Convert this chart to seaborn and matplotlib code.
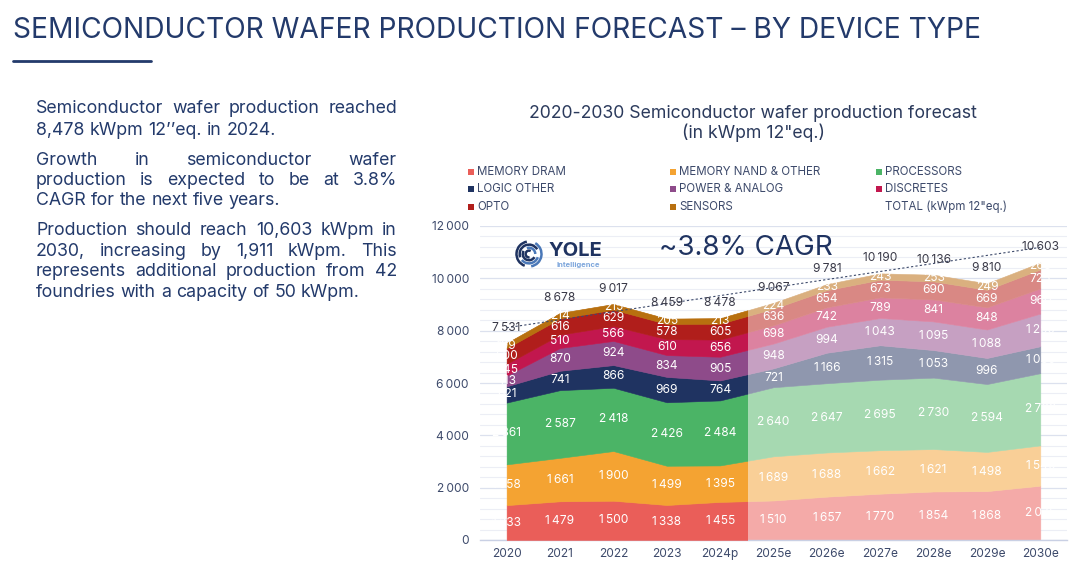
import numpy as np
import pandas as pd
import matplotlib
matplotlib.use("Agg")
import matplotlib.pyplot as plt
import seaborn as sns
from matplotlib.patches import Rectangle, Arc
from matplotlib.lines import Line2D

# ---------------- data ----------------
years = ["2020", "2021", "2022", "2023", "2024p", "2025e", "2026e",
         "2027e", "2028e", "2029e", "2030e"]
memory_dram = [1333, 1479, 1500, 1338, 1455, 1510, 1657, 1770, 1854, 1868, 2075]
memory_nand = [1558, 1661, 1900, 1499, 1395, 1689, 1688, 1662, 1621, 1498, 1540]
processors = [2361, 2587, 2418, 2426, 2484, 2640, 2647, 2695, 2730, 2594, 2760]
logic_other = [621, 741, 866, 969, 764, 721, 1166, 1315, 1053, 996, 1030]
power_analog = [413, 870, 924, 834, 905, 948, 994, 1043, 1095, 1088, 1250]
discretes = [445, 510, 566, 610, 656, 698, 742, 789, 841, 848, 960]
opto = [600, 616, 629, 578, 605, 636, 654, 673, 690, 669, 725]
sensors = [199, 214, 215, 205, 213, 224, 233, 243, 253, 249, 263]
totals = [7531, 8678, 9017, 8459, 8478, 9067, 9781, 10190, 10136, 9810, 10603]

series_names = ["MEMORY DRAM", "MEMORY NAND & OTHER", "PROCESSORS", "LOGIC OTHER",
                "POWER & ANALOG", "DISCRETES", "OPTO", "SENSORS"]
series = [memory_dram, memory_nand, processors, logic_other,
          power_analog, discretes, opto, sensors]
dark_colors = ["#EA5E59", "#F4A332", "#4BB466", "#1F3361",
               "#8E4B8A", "#C2174E", "#B01E1B", "#B8700F"]
light_colors = ["#F4AAA8", "#F9CF97", "#A6D9B1", "#8F97AE",
                "#C6A0C2", "#DC82A0", "#D98884", "#DAB07F"]

NAVY = "#233A6B"
GREY_TXT = "#3D4A6B"

df = pd.DataFrame({"year": years, "total": totals})

# ---------------- figure ----------------
sns.set_theme(style="white")
plt.rcParams["font.family"] = ["Inter", "DejaVu Sans"]

W, H = 1080, 570
fig = plt.figure(figsize=(W / 100, H / 100), dpi=100)


def fx(x):
    return x / W


def fy(y):
    return 1 - y / H


ax = fig.add_axes([fx(480), fy(540), 587 / W, 314 / H])
x = np.arange(len(years))

# light (forecast) colours for the whole range
ax.stackplot(x, *series, colors=light_colors, linewidth=0.4,
             edgecolor="face", zorder=2)
# dark (actual) colours, clipped to 2020 - 2024p
dark = ax.stackplot(x, *series, colors=dark_colors, linewidth=0.4,
                    edgecolor="face", zorder=3)
clip = Rectangle((-0.5, 0), 5.0, 14000, transform=ax.transData)
for p in dark:
    p.set_clip_path(clip)

ax.set_xlim(-0.5, len(years) - 0.5)
ax.set_ylim(0, 12000)


def fmt(v):
    s = f"{v:,}"
    return s.replace(",", "\u2009")


# segment labels
bottom = np.zeros(len(years))
for vals in series:
    vals = np.array(vals, dtype=float)
    for j in range(len(years)):
        ax.text(x[j], bottom[j] + vals[j] / 2, fmt(int(vals[j])), color="white",
                ha="center", va="center", fontsize=8.6, zorder=6, clip_on=True)
    bottom += vals

# totals + CAGR line
for j in range(len(years)):
    ax.text(x[j], totals[j] + 580, fmt(totals[j]), color="#3A3A48",
            ha="center", va="center", fontsize=8.6, zorder=7)
sns.lineplot(x=[x[0], x[-1]], y=[totals[0] + 580, totals[-1] + 580], ax=ax,
             color=GREY_TXT, linewidth=0.8, dashes=False, zorder=6)
ax.lines[-1].set_linestyle((0, (2, 2)))

# axes styling
ax.set_yticks(np.arange(0, 12001, 2000))
ax.set_yticks(np.arange(0, 12001, 400), minor=True)
ax.set_yticklabels([fmt(v) for v in range(0, 12001, 2000)])
ax.yaxis.grid(True, which="major", color="#DCE1EE", linewidth=0.9)
ax.yaxis.grid(True, which="minor", color="#ECEEF5", linewidth=0.8)
ax.xaxis.grid(False)
ax.set_axisbelow(True)
ax.set_xticks(x)
ax.set_xticklabels(years)
ax.set_xticks(np.arange(-0.5, len(years), 1), minor=True)
ax.tick_params(axis="x", which="major", length=0, pad=6, labelsize=8.6,
               labelcolor=GREY_TXT)
ax.tick_params(axis="x", which="minor", length=4, color="#C9D0E4", width=0.8,
               direction="out")
ax.tick_params(axis="y", which="both", length=0, pad=8, labelsize=8.6,
               labelcolor=GREY_TXT)
for s in ["top", "right", "left"]:
    ax.spines[s].set_visible(False)
ax.spines["bottom"].set_color("#C9D0E4")
ax.spines["bottom"].set_linewidth(1.0)
ax.set_xlabel("")
ax.set_ylabel("")

# ---------------- page title ----------------
fig.text(fx(13), fy(31), "SEMICONDUCTOR WAFER PRODUCTION FORECAST \u2013 BY DEVICE TYPE",
         fontsize=20.3, color=NAVY, va="center", ha="left")
fig.add_artist(Line2D([fx(13), fx(151)], [fy(61), fy(61)], lw=2, color=NAVY,
                      transform=fig.transFigure))

# ---------------- chart title ----------------
fig.text(fx(753), fy(113), "2020-2030 Semiconductor wafer production forecast",
         fontsize=12.7, color="#2B3A5C", ha="center", va="center")
fig.text(fx(753), fy(133), "(in kWpm 12\"eq.)",
         fontsize=12.7, color="#2B3A5C", ha="center", va="center")

# ---------------- legend ----------------
col_x = [468, 670, 876]
row_y = [172, 189, 207]
for k, name in enumerate(series_names + ["TOTAL (kWpm 12\"eq.)"]):
    r, c = divmod(k, 3)
    xx, yy = col_x[c], row_y[r]
    if k < len(series_names):
        fig.add_artist(Rectangle((fx(xx), fy(yy + 3)), 6 / W, 6 / H,
                                 transform=fig.transFigure,
                                 color=dark_colors[k], lw=0))
    fig.text(fx(xx + 9), fy(yy), name, fontsize=8.3, color=GREY_TXT,
             ha="left", va="center")

# ---------------- logo + CAGR ----------------
lax = fig.add_axes([fx(514), fy(269), 30 / W, 30 / H])
lax.set_xlim(-1.2, 1.2)
lax.set_ylim(-1.2, 1.2)
lax.set_aspect("equal")
lax.axis("off")
arcs = [(1.0, 100, 250, "#1F3361"), (1.0, 280, 420, "#4A78B8"),
        (0.75, 30, 200, "#1F3361"), (0.75, 220, 340, "#4A78B8"),
        (0.5, 150, 330, "#1F3361"), (0.5, 0, 110, "#4A78B8"),
        (0.27, 60, 280, "#1F3361")]
for r, t1, t2, c in arcs:
    lax.add_patch(Arc((0, 0), 2 * r, 2 * r, theta1=t1, theta2=t2,
                      color=c, lw=1.8))
fig.text(fx(549), fy(251), "YOLE", fontsize=14.5, fontweight="bold",
         color="#1F3361", ha="left", va="center")
fig.text(fx(578), fy(265), "Intelligence", fontsize=5.5, fontweight="bold",
         color="#7DA6DC", ha="center", va="center")
fig.text(fx(659), fy(248), "~3.8% CAGR", fontsize=20, color="#1F3361",
         ha="left", va="center")

# ---------------- left paragraph (justified) ----------------
para = [
    ("Semiconductor wafer production reached", True, 113),
    ("8,478 kWpm 12\u2019\u2019eq. in 2024.", False, 135),
    ("Growth in semiconductor wafer", True, 165),
    ("production is expected to be at 3.8%", True, 185),
    ("CAGR for the next five years.", False, 205),
    ("Production should reach 10,603 kWpm in", True, 235),
    ("2030, increasing by 1,911 kWpm. This", True, 256),
    ("represents additional production from 42", True, 276),
    ("foundries with a capacity of 50 kWpm.", False, 297),
]
X0, X1 = 36, 397
PFS = 12.8
renderer = fig.canvas.get_renderer()


def word_width(wd):
    t = fig.text(0, 0, wd, fontsize=PFS)
    w = t.get_window_extent(renderer).width
    t.remove()
    return w


space_w = word_width("a a") - word_width("aa")
for line, just, base in para:
    words = line.split(" ")
    widths = [word_width(wd) for wd in words]
    if just and len(words) > 1:
        gap = (X1 - X0 - sum(widths)) / (len(words) - 1)
    else:
        gap = space_w
    cx = X0
    for wd, w in zip(words, widths):
        fig.text(fx(cx), fy(base), wd, fontsize=PFS, color=NAVY,
                 ha="left", va="baseline")
        cx += w + gap

fig.savefig("out.png", dpi=100)
